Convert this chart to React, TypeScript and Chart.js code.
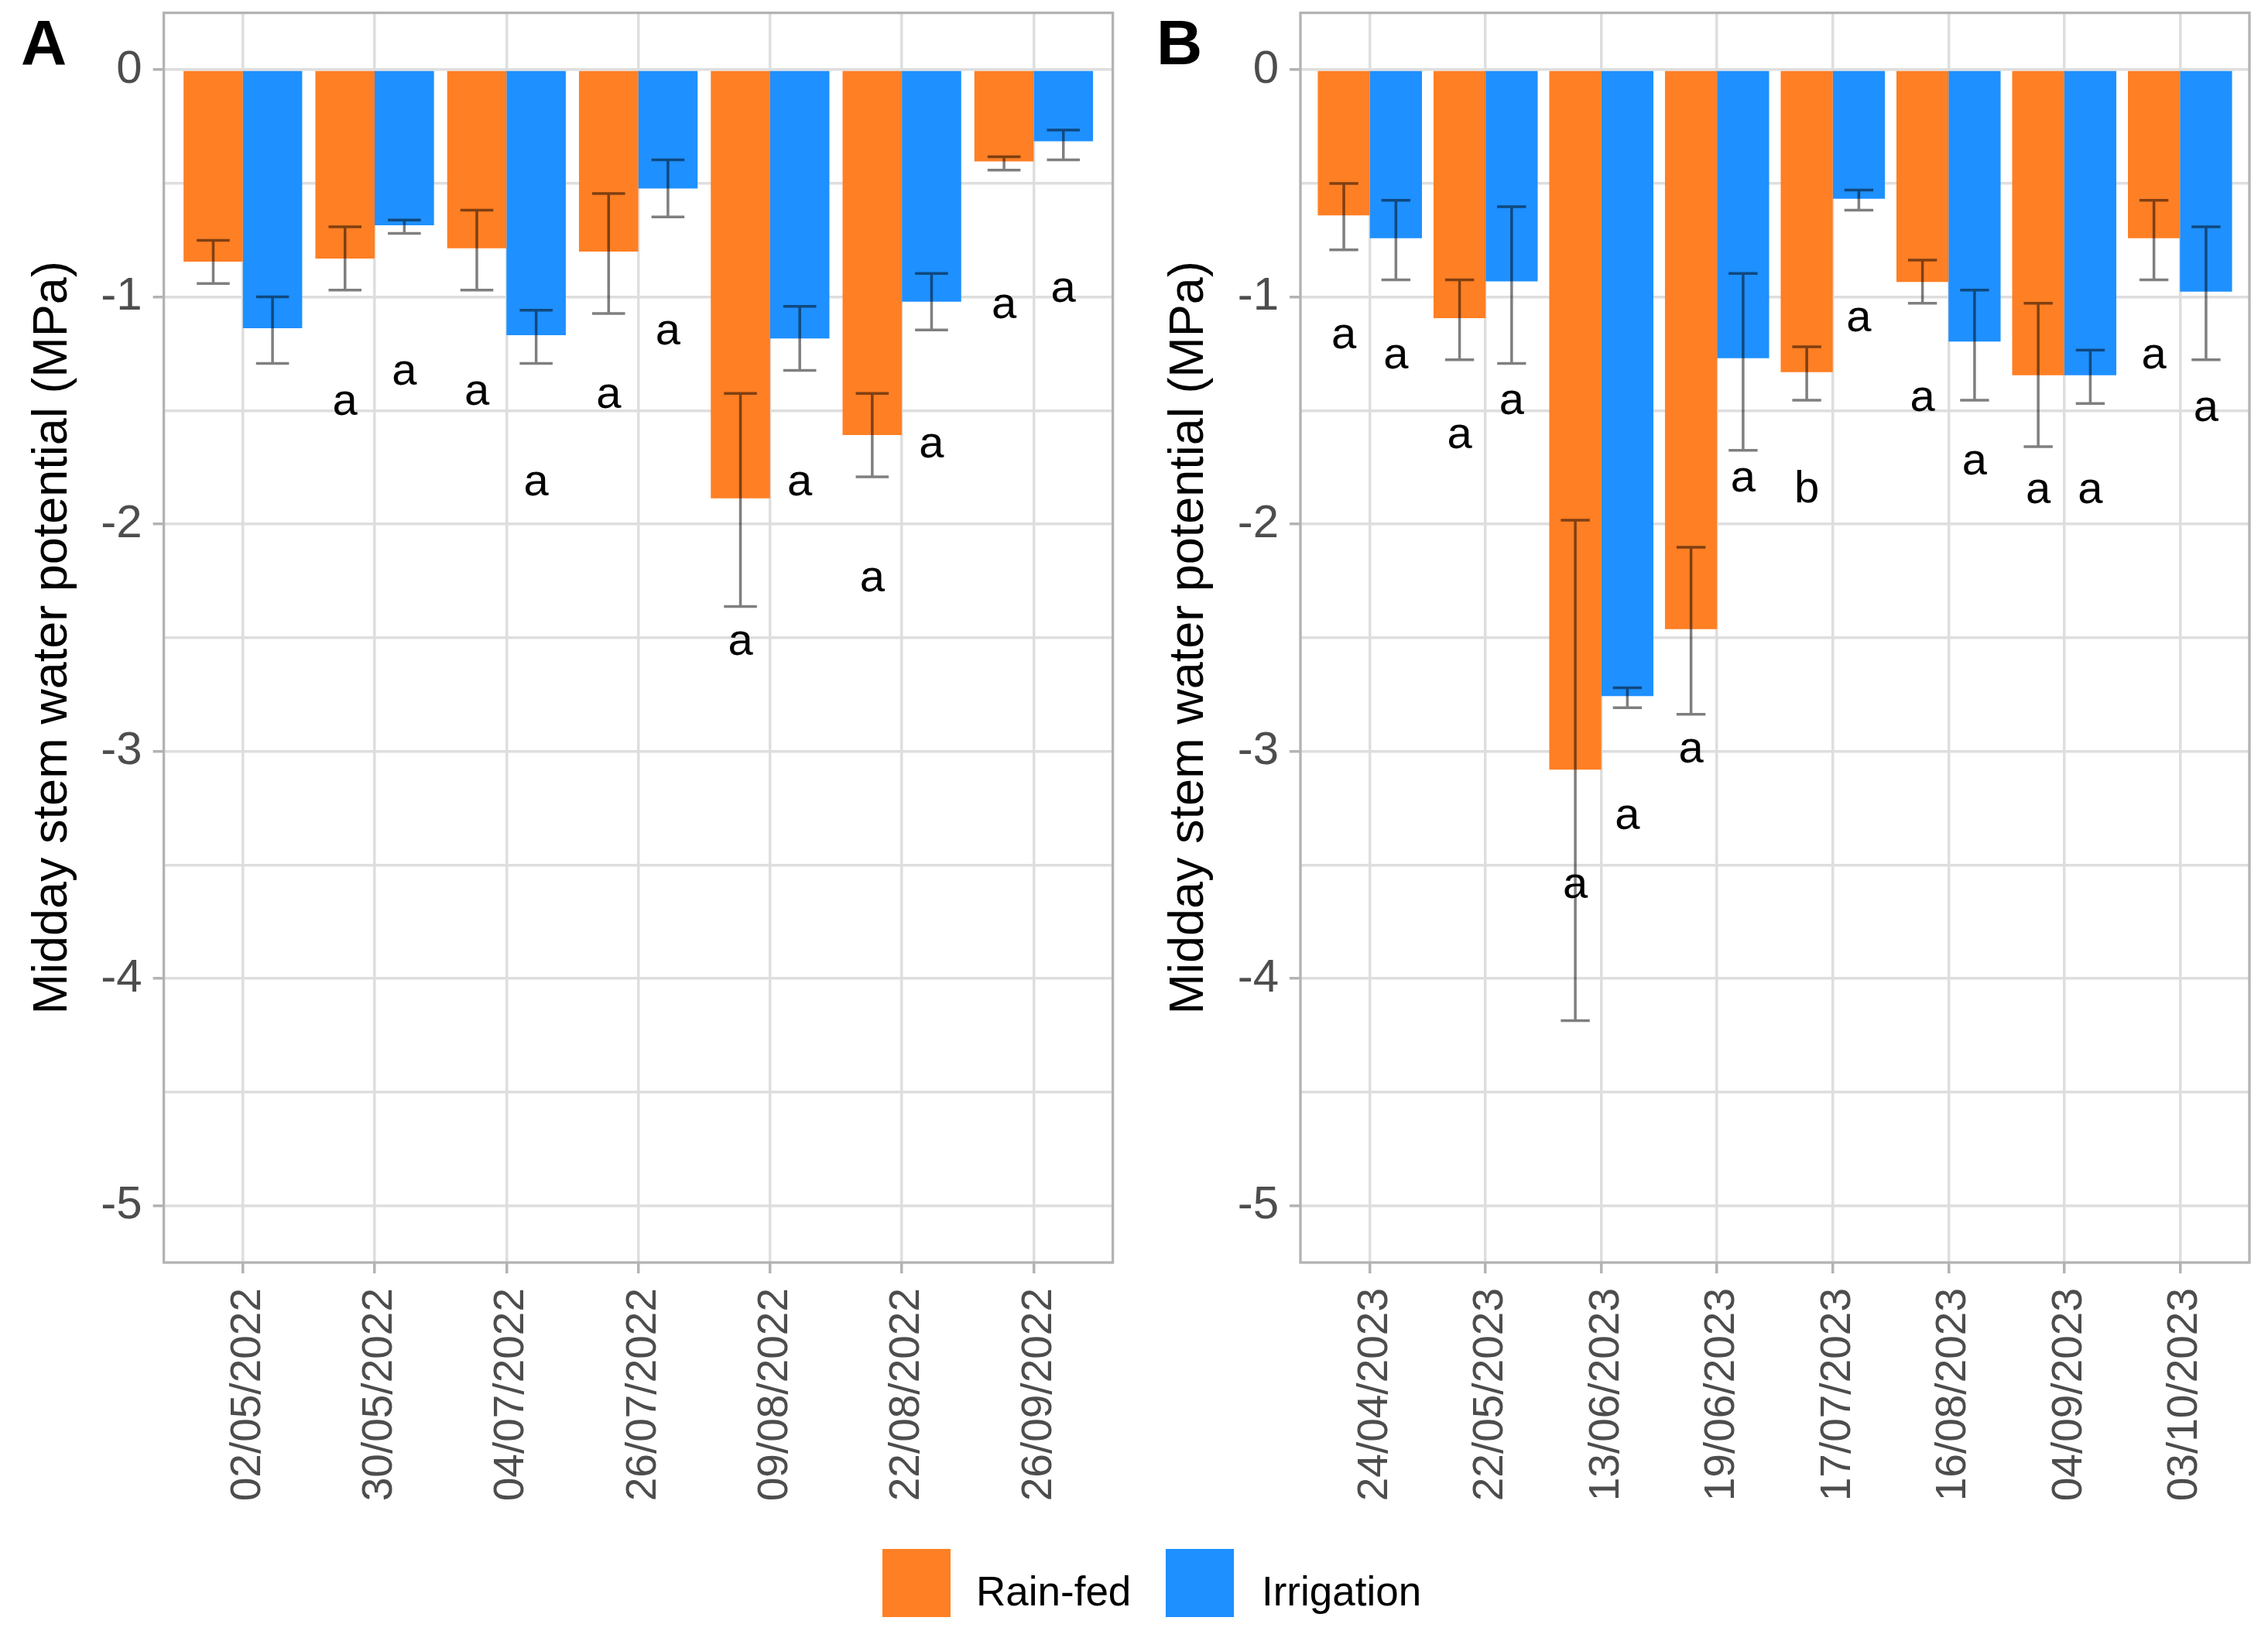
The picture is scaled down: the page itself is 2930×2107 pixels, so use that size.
import React, { useEffect, useRef } from 'react';
import { Chart, registerables } from 'chart.js';

Chart.register(...registerables);

// ---------------- Data ----------------
const datesA = ['02/05/2022', '30/05/2022', '04/07/2022', '26/07/2022', '09/08/2022', '22/08/2022', '26/09/2022'];
const rainA = [-0.845, -0.831, -0.786, -0.801, -1.887, -1.608, -0.404];
const rainAHigh = [-0.751, -0.692, -0.618, -0.545, -1.425, -1.425, -0.383];
const rainALow = [-0.941, -0.970, -0.970, -1.073, -2.363, -1.792, -0.442];
const irrA = [-1.138, -0.685, -1.169, -0.523, -1.183, -1.021, -0.315];
const irrAHigh = [-1.0, -0.662, -1.059, -0.397, -1.042, -0.897, -0.266];
const irrALow = [-1.293, -0.721, -1.293, -0.648, -1.324, -1.146, -0.397];
const rainALetters = [null, 'a', 'a', 'a', 'a', 'a', 'a'];
const rainALetterY = [null, -1.521, -1.475, -1.490, -2.576, -2.296, -1.094];
const irrALetters = [null, 'a', 'a', 'a', 'a', 'a', 'a'];
const irrALetterY = [null, -1.387, -1.873, -1.211, -1.873, -1.708, -1.021];

const datesB = ['24/04/2023', '22/05/2023', '13/06/2023', '19/06/2023', '17/07/2023', '16/08/2023', '04/09/2023', '03/10/2023'];
const rainB = [-0.641, -1.094, -3.081, -2.462, -1.331, -0.934, -1.345, -0.742];
const rainBHigh = [-0.501, -0.925, -1.983, -2.102, -1.220, -0.838, -1.028, -0.575];
const rainBLow = [-0.793, -1.277, -4.185, -2.837, -1.455, -1.028, -1.659, -0.925];
const irrB = [-0.742, -0.932, -2.757, -1.270, -0.568, -1.197, -1.345, -0.977];
const irrBHigh = [-0.575, -0.603, -2.720, -0.897, -0.530, -0.970, -1.234, -0.692];
const irrBLow = [-0.925, -1.293, -2.808, -1.675, -0.618, -1.455, -1.469, -1.277];
const rainBLetters = ['a', 'a', 'a', 'a', 'b', 'a', 'a', 'a'];
const rainBLetterY = [-1.225, -1.665, -3.646, -3.050, -1.903, -1.504, -1.908, -1.314];
const irrBLetters = ['a', 'a', 'a', 'a', 'a', 'a', 'a', 'a'];
const irrBLetterY = [-1.314, -1.517, -3.343, -1.857, -1.151, -1.782, -1.908, -1.546];

const yMajorTicks = [0, -1, -2, -3, -4, -5];
const yMinorTicks = [-0.5, -1.5, -2.5, -3.5, -4.5];
const yTitle = 'Midday stem water potential (MPa)';
const seriesNames = ['Rain-fed', 'Irrigation'];

// ---------------- Styles ----------------
const ORANGE = '#FF7F24';
const BLUE = '#1E90FF';
const GRID = '#dedede';
const BORDER = '#b3b3b3';
const TICKTEXT = '#4d4d4d';
const SANS = "'Liberation Sans', Arial, sans-serif";

type Panel = {
  dates: string[];
  rain: number[]; rainHigh: number[]; rainLow: number[];
  irr: number[]; irrHigh: number[]; irrLow: number[];
  rainLetters: (string | null)[]; rainLetterY: (number | null)[];
  irrLetters: (string | null)[]; irrLetterY: (number | null)[];
  axisWidth: number; titlePad: number; padRight: number;
};

const panelA: Panel = {
  dates: datesA, rain: rainA, rainHigh: rainAHigh, rainLow: rainALow,
  irr: irrA, irrHigh: irrAHigh, irrLow: irrALow,
  rainLetters: rainALetters, rainLetterY: rainALetterY,
  irrLetters: irrALetters, irrLetterY: irrALetterY,
  axisWidth: 211.6, titlePad: 37.5, padRight: 22.4,
};
const panelB: Panel = {
  dates: datesB, rain: rainB, rainHigh: rainBHigh, rainLow: rainBLow,
  irr: irrB, irrHigh: irrBHigh, irrLow: irrBLow,
  rainLetters: rainBLetters, rainLetterY: rainBLetterY,
  irrLetters: irrBLetters, irrLetterY: irrBLetterY,
  axisWidth: 220, titlePad: 45.5, padRight: 24,
};

function hasNarrow(): boolean {
  const c = document.createElement('canvas');
  const ctx = c.getContext('2d');
  if (!ctx) return false;
  const s = '0123456789/';
  ctx.font = '60px monospace';
  const w1 = ctx.measureText(s).width;
  ctx.font = "60px 'Liberation Sans Narrow', monospace";
  const w2 = ctx.measureText(s).width;
  return Math.abs(w1 - w2) > 1;
}

function buildChart(canvas: HTMLCanvasElement, p: Panel, xFont: any, yFont: any) {
  const overlay = {
    id: 'errAndLetters',
    afterDatasetsDraw(chart: any) {
      const ctx = chart.ctx;
      const x = chart.scales.x;
      const y = chart.scales.y;
      const unit = Math.abs(x.getPixelForValue(1) - x.getPixelForValue(0));
      const half = unit * 0.125;
      const series: any[] = [
        [p.rainHigh, p.rainLow, p.rainLetters, p.rainLetterY],
        [p.irrHigh, p.irrLow, p.irrLetters, p.irrLetterY],
      ];
      ctx.save();
      ctx.strokeStyle = 'rgba(0,0,0,0.5)';
      ctx.lineWidth = 3.5;
      series.forEach((s, d) => {
        const meta = chart.getDatasetMeta(d);
        meta.data.forEach((bar: any, i: number) => {
          const bx = bar.x;
          const yh = y.getPixelForValue(s[0][i]);
          const yl = y.getPixelForValue(s[1][i]);
          ctx.beginPath();
          ctx.moveTo(bx, yh); ctx.lineTo(bx, yl);
          ctx.moveTo(bx - half, yh); ctx.lineTo(bx + half, yh);
          ctx.moveTo(bx - half, yl); ctx.lineTo(bx + half, yl);
          ctx.stroke();
        });
      });
      ctx.fillStyle = '#000';
      ctx.font = `58px ${SANS}`;
      ctx.textAlign = 'center';
      ctx.textBaseline = 'alphabetic';
      series.forEach((s, d) => {
        const meta = chart.getDatasetMeta(d);
        meta.data.forEach((bar: any, i: number) => {
          const t = s[2][i];
          const v = s[3][i];
          if (t == null || v == null) return;
          ctx.fillText(t, bar.x, y.getPixelForValue(v));
        });
      });
      ctx.restore();
    },
    afterDraw(chart: any) {
      const a = chart.chartArea;
      const ctx = chart.ctx;
      ctx.save();
      ctx.strokeStyle = BORDER;
      ctx.lineWidth = 3.3;
      ctx.strokeRect(a.left, a.top, a.right - a.left, a.bottom - a.top);
      ctx.restore();
    },
  };

  const n = p.dates.length;
  const yTicks = [...yMajorTicks, ...yMinorTicks].sort((a, b) => a - b);

  return new Chart(canvas, {
    type: 'bar',
    data: {
      datasets: [
        {
          label: seriesNames[0],
          data: p.rain.map((v, i) => ({ x: i, y: v })),
          backgroundColor: ORANGE,
          borderWidth: 0,
          categoryPercentage: 0.9,
          barPercentage: 1,
        },
        {
          label: seriesNames[1],
          data: p.irr.map((v, i) => ({ x: i, y: v })),
          backgroundColor: BLUE,
          borderWidth: 0,
          categoryPercentage: 0.9,
          barPercentage: 1,
        },
      ],
    },
    options: {
      animation: false,
      responsive: false,
      devicePixelRatio: 1,
      layout: { padding: { top: 16.6, right: p.padRight, left: 0, bottom: 0 } },
      plugins: { legend: { display: false }, tooltip: { enabled: false } },
      scales: {
        x: {
          type: 'linear',
          min: -0.6,
          max: n - 1 + 0.6,
          offset: false,
          afterBuildTicks: (s: any) => { s.ticks = p.dates.map((_, i) => ({ value: i })); },
          afterFit: (s: any) => { s.height = 359; s.paddingLeft = 0; s.paddingRight = 0; },
          grid: { offset: false, color: GRID, lineWidth: 3.5, drawTicks: true, tickLength: 14, tickColor: BORDER, tickWidth: 3.5 },
          border: { display: false },
          ticks: {
            autoSkip: false,
            minRotation: 90,
            maxRotation: 90,
            padding: 19,
            labelOffset: 7,
            color: TICKTEXT,
            font: xFont,
            callback: (v: any) => p.dates[v] ?? '',
          },
        },
        y: {
          type: 'linear',
          min: -5.25,
          max: 0.25,
          afterBuildTicks: (s: any) => { s.ticks = yTicks.map((v) => ({ value: v })); },
          afterFit: (s: any) => { s.width = p.axisWidth; s.paddingTop = 0; s.paddingBottom = 0; },
          grid: {
            color: GRID,
            lineWidth: 3.5,
            drawTicks: true,
            tickLength: 14,
            tickWidth: 3.5,
            tickColor: (c: any) => (Number.isInteger(c.tick?.value) ? BORDER : 'rgba(0,0,0,0)'),
          },
          border: { display: false },
          ticks: {
            padding: 14,
            color: TICKTEXT,
            font: yFont,
            callback: (v: any) => (Number.isInteger(v) ? String(v) : ''),
          },
          title: {
            display: true,
            text: yTitle,
            color: '#000',
            font: { family: SANS, size: 63, lineHeight: 1 },
            padding: { top: p.titlePad, bottom: 0 },
          },
        },
      },
    } as any,
    plugins: [overlay],
  } as any);
}

export default function App() {
  const refA = useRef<HTMLCanvasElement>(null);
  const refB = useRef<HTMLCanvasElement>(null);

  useEffect(() => {
    document.body.style.margin = '0';
    const narrow = hasNarrow();
    const xFont = narrow
      ? { family: "'Liberation Sans Narrow', 'Liberation Sans', sans-serif", size: 66 }
      : { family: SANS, size: 55 };
    const yFont = narrow
      ? { family: "'Liberation Sans Narrow', 'Liberation Sans', sans-serif", size: 66 }
      : { family: SANS, size: 60 };
    const cA = buildChart(refA.current!, panelA, xFont, yFont);
    const cB = buildChart(refB.current!, panelB, xFont, yFont);
    return () => { cA.destroy(); cB.destroy(); };
  }, []);

  const letterStyle: React.CSSProperties = {
    position: 'absolute', top: 13.6, fontFamily: SANS, fontWeight: 'bold', fontSize: 82, lineHeight: 1, color: '#000',
  };
  const legText: React.CSSProperties = {
    position: 'absolute', top: 2029, fontFamily: SANS, fontSize: 53, lineHeight: 1, color: '#000', whiteSpace: 'nowrap',
  };
  const sq: React.CSSProperties = { position: 'absolute', top: 2001, width: 88, height: 88 };

  return (
    <div style={{ position: 'relative', width: 2930, height: 2107, background: '#fff', overflow: 'hidden' }}>
      <canvas ref={refA} width={1460} height={1990} style={{ position: 'absolute', left: 0, top: 0, width: 1460, height: 1990 }} />
      <canvas ref={refB} width={1470} height={1990} style={{ position: 'absolute', left: 1460, top: 0, width: 1470, height: 1990 }} />
      <div style={{ ...letterStyle, left: 27 }}>A</div>
      <div style={{ ...letterStyle, left: 1494 }}>B</div>
      <div style={{ ...sq, left: 1140, background: ORANGE }} />
      <div style={{ ...legText, left: 1261 }}>{seriesNames[0]}</div>
      <div style={{ ...sq, left: 1506, background: BLUE }} />
      <div style={{ ...legText, left: 1630 }}>{seriesNames[1]}</div>
    </div>
  );
}
